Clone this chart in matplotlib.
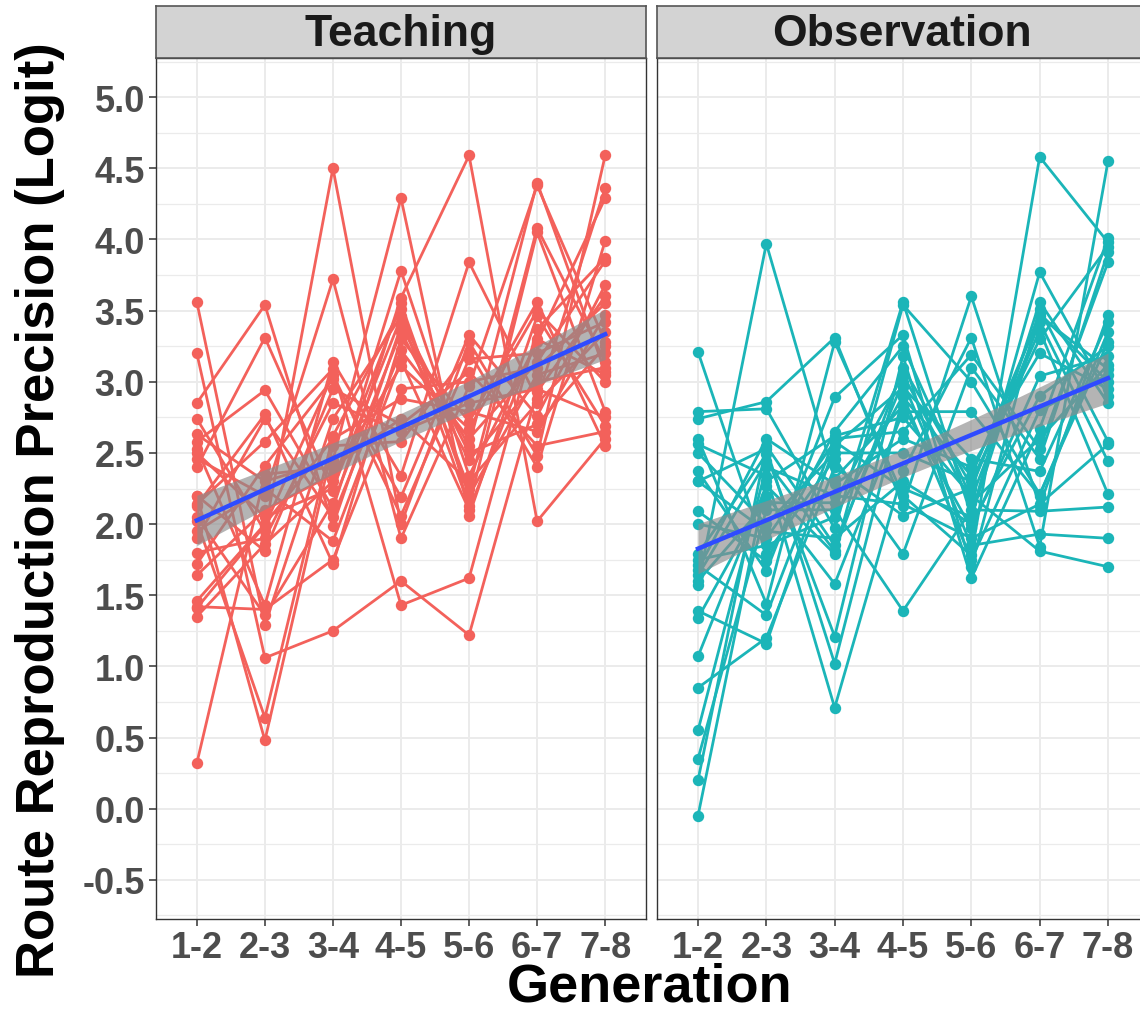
import matplotlib
matplotlib.use("Agg")
import matplotlib.pyplot as plt
import numpy as np
from matplotlib import font_manager
from matplotlib.ticker import MultipleLocator, FixedLocator

# ---------------- data ----------------
generations = ["1-2", "2-3", "3-4", "4-5", "5-6", "6-7", "7-8"]
panel_names = ["Teaching", "Observation"]

teaching_chains = [
    [3.56, 1.29, 2.74, 3.46, 2.13, 4.05, 2.79],
    [3.20, 1.06, 1.25, 1.60, 1.22, 2.93, 3.60],
    [2.85, 3.54, 1.99, 3.39, 2.55, 4.40, 3.07],
    [2.74, 1.95, 4.50, 2.00, 3.28, 2.48, 4.59],
    [2.63, 2.30, 2.45, 4.29, 2.06, 3.46, 2.69],
    [2.58, 2.94, 2.11, 3.59, 4.59, 2.02, 2.60],
    [2.53, 1.43, 3.14, 2.34, 3.84, 2.88, 4.36],
    [2.46, 2.20, 3.72, 1.90, 2.97, 4.38, 3.28],
    [2.40, 3.31, 2.23, 3.78, 2.34, 3.28, 4.29],
    [2.20, 0.48, 2.55, 2.58, 3.21, 2.40, 3.99],
    [2.13, 2.77, 1.72, 3.30, 2.72, 3.56, 2.55],
    [2.02, 0.64, 2.62, 3.51, 2.25, 4.08, 3.14],
    [2.14, 2.58, 3.09, 1.43, 1.62, 3.37, 3.87],
    [1.90, 2.74, 2.05, 3.22, 2.60, 3.14, 3.85],
    [1.72, 2.41, 3.02, 2.19, 3.33, 2.76, 3.68],
    [1.64, 2.10, 2.35, 3.11, 2.67, 3.50, 3.00],
    [1.46, 2.00, 2.60, 2.88, 2.79, 2.65, 3.47],
    [1.41, 1.99, 3.05, 2.06, 3.16, 3.20, 3.42],
    [1.35, 1.86, 2.30, 3.55, 2.20, 3.05, 3.20],
    [0.32, 2.35, 2.40, 2.74, 2.30, 2.85, 3.35],
    [2.20, 1.81, 2.95, 2.70, 3.07, 2.55, 2.65],
    [2.05, 1.36, 2.15, 3.35, 2.45, 3.00, 3.10],
    [1.95, 2.25, 1.88, 3.15, 2.10, 3.30, 3.05],
    [1.80, 1.90, 2.85, 2.65, 2.85, 2.95, 2.75],
    [1.42, 1.40, 1.75, 2.95, 3.00, 3.10, 3.55],
    [2.50, 2.05, 2.25, 3.45, 2.50, 2.70, 3.25],
]

observation_chains = [
    [3.21, 1.79, 2.46, 1.79, 3.10, 2.46, 3.91],
    [2.79, 2.81, 1.97, 3.56, 2.06, 3.77, 2.90],
    [2.74, 2.86, 3.31, 2.13, 3.60, 2.13, 3.47],
    [2.60, 1.44, 3.28, 2.20, 1.78, 4.58, 3.98],
    [2.56, 2.34, 0.71, 2.37, 3.31, 1.84, 4.55],
    [2.37, 1.67, 2.89, 3.33, 1.70, 3.51, 2.58],
    [2.30, 2.53, 1.02, 2.89, 2.34, 3.46, 3.09],
    [2.09, 1.74, 2.65, 3.25, 2.18, 3.42, 2.44],
    [1.79, 2.49, 1.21, 3.18, 1.62, 2.67, 4.01],
    [1.71, 1.36, 2.60, 2.65, 3.19, 2.53, 3.84],
    [1.64, 2.44, 1.81, 3.10, 2.27, 3.36, 2.21],
    [1.57, 3.97, 2.32, 2.83, 1.97, 3.04, 3.18],
    [1.39, 1.16, 2.55, 2.96, 2.46, 2.37, 3.42],
    [1.34, 2.20, 1.58, 2.79, 2.79, 2.20, 3.35],
    [1.07, 2.27, 1.79, 3.54, 3.00, 2.21, 3.28],
    [0.85, 1.20, 2.40, 2.06, 2.25, 3.48, 3.00],
    [0.55, 2.40, 2.20, 2.14, 1.90, 2.14, 2.56],
    [0.35, 2.10, 2.10, 1.39, 2.10, 2.09, 2.12],
    [0.20, 2.55, 1.85, 3.00, 1.85, 1.93, 1.90],
    [-0.05, 2.30, 2.62, 2.75, 2.20, 1.81, 1.70],
    [2.50, 2.00, 2.50, 2.50, 2.30, 3.30, 3.95],
    [2.30, 1.95, 1.90, 2.30, 2.00, 2.90, 3.25],
    [1.75, 1.85, 2.05, 2.90, 1.75, 2.80, 3.05],
    [1.68, 2.60, 2.28, 2.60, 2.40, 3.20, 2.95],
    [1.60, 2.15, 2.15, 3.05, 2.15, 2.60, 3.12],
    [2.00, 1.90, 2.58, 2.25, 2.05, 3.56, 2.85],
]

y_ticks = [-0.5, 0.0, 0.5, 1.0, 1.5, 2.0, 2.5, 3.0, 3.5, 4.0, 4.5, 5.0]
y_tick_labels = ["-0.5", "0.0", "0.5", "1.0", "1.5", "2.0", "2.5",
                 "3.0", "3.5", "4.0", "4.5", "5.0"]

panel_colors = ["#F3615B", "#1BB5B8"]
panel_data = [teaching_chains, observation_chains]

# ---------------- style ----------------
names = {f.name for f in font_manager.fontManager.ttflist}
FONT = "Liberation Sans" if "Liberation Sans" in names else "DejaVu Sans"
plt.rcParams['font.family'] = [FONT, 'DejaVu Sans']
plt.rcParams['font.weight'] = 'bold'

W, H = 1140, 1012
fig = plt.figure(figsize=(W / 100, H / 100), dpi=100)

panel_top = 59
panel_bottom = 920
strip_top = 7
panel_x = [(156, 490), (657, 492)]

x_pos = np.arange(1, len(generations) + 1)

for i, (px0, pw) in enumerate(panel_x):
    ax = fig.add_axes([px0 / W, 1 - panel_bottom / H, pw / W,
                       (panel_bottom - panel_top) / H])
    ax.set_xlim(0.4, 7.6)
    ax.set_ylim(-0.775, 5.275)
    ax.set_facecolor("white")

    # grid
    ax.set_axisbelow(True)
    ax.yaxis.set_major_locator(FixedLocator(y_ticks))
    ax.yaxis.set_minor_locator(MultipleLocator(0.25))
    ax.xaxis.set_major_locator(FixedLocator(list(x_pos)))
    ax.grid(True, which="major", color="#EBEBEB", lw=1.4)
    ax.grid(True, which="minor", axis="y", color="#EBEBEB", lw=0.9)

    color = panel_colors[i]
    chains = panel_data[i]
    for ch in chains:
        ax.plot(x_pos, ch, color=color, lw=2.0, zorder=2,
                solid_capstyle="round", solid_joinstyle="round")
    for ch in chains:
        ax.plot(x_pos, ch, ls="none", marker="o", ms=8.2, mfc=color,
                mec=color, mew=0, zorder=3)

    # linear fit with 95% CI
    xs = np.tile(x_pos, len(chains)).astype(float)
    ys = np.concatenate([np.asarray(c, float) for c in chains])
    n = len(xs)
    xm = xs.mean()
    sxx = np.sum((xs - xm) ** 2)
    b = np.sum((xs - xm) * (ys - ys.mean())) / sxx
    a = ys.mean() - b * xm
    resid = ys - (a + b * xs)
    s = np.sqrt(np.sum(resid ** 2) / (n - 2))
    xf = np.linspace(1, 7, 80)
    yf = a + b * xf
    se = s * np.sqrt(1.0 / n + (xf - xm) ** 2 / sxx)
    tq = 1.973
    ax.fill_between(xf, yf - tq * se, yf + tq * se, color="#8C8C8C",
                    alpha=0.65, lw=0, zorder=4)
    ax.plot(xf, yf, color="#2F4BFF", lw=3.2, zorder=5)

    # axes styling
    for sp in ax.spines.values():
        sp.set_color("#333333")
        sp.set_linewidth(1.0)
        sp.set_zorder(6)
    ax.set_xticks(x_pos)
    ax.set_xticklabels(generations, fontsize=26, fontweight="bold",
                       color="#4D4D4D")
    ax.tick_params(axis="x", which="major", length=5, width=1.1,
                   color="#333333", pad=3)
    ax.tick_params(axis="y", which="minor", length=0)
    if i == 0:
        ax.set_yticklabels(y_tick_labels, fontsize=26, fontweight="bold",
                           color="#4D4D4D")
        ax.tick_params(axis="y", which="major", length=5, width=1.1,
                       color="#333333", pad=3)
    else:
        ax.tick_params(axis="y", which="major", length=0,
                       labelleft=False)

    # strip
    sax = fig.add_axes([px0 / W, 1 - panel_top / H, pw / W,
                        (panel_top - strip_top) / H])
    sax.set_facecolor("#D3D3D3")
    sax.set_xticks([])
    sax.set_yticks([])
    for sp in sax.spines.values():
        sp.set_color("#555555")
        sp.set_linewidth(1.2)
    sax.text(0.5 if i == 0 else (490 / 2) / pw, 0.47, panel_names[i],
             transform=sax.transAxes, ha="center", va="center",
             fontsize=32, fontweight="bold", color="#1A1A1A")

fig.text(40 / W, 0.5 - 0.004, "Route Reproduction Precision (Logit)",
         rotation=90, ha="center", va="center", fontsize=38,
         fontweight="bold", color="black")
fig.text(650 / W, 1 - 1002 / H, "Generation", ha="center", va="baseline",
         fontsize=39, fontweight="bold", color="black")

fig.savefig("out.png", dpi=100, facecolor="white")
